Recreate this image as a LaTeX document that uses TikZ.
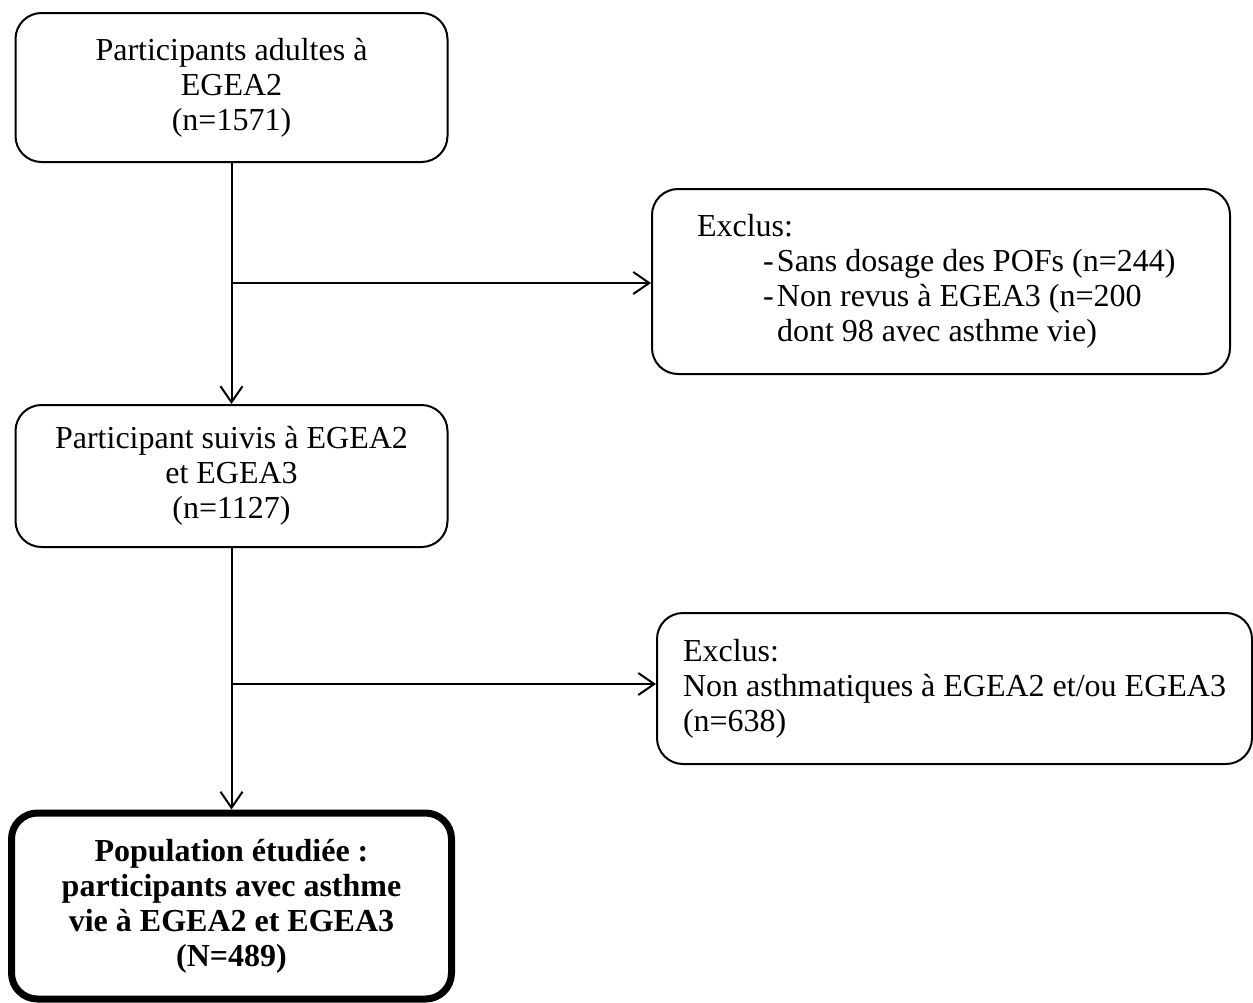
\documentclass[tikz,border=0pt]{standalone}
\usepackage{fontspec}
\setmainfont{Liberation Serif}
\usetikzlibrary{arrows.meta,calc}
\newcommand{\exline}[1]{\makebox[488pt][l]{#1}}
\begin{document}
\begin{tikzpicture}[x=1pt,y=-1pt,
  box/.style={draw=black, line width=2pt, rounded corners=26pt, inner sep=0pt,
    font=\fontsize{32}{35}\selectfont, align=center},
  lbox/.style={box, align=left},
  mainbox/.style={box, line width=7pt, font=\fontsize{32}{35}\selectfont\bfseries},
  arr/.style={line width=2pt, -{Straight Barb[length=16pt,width=22pt,line width=2pt]}},
  ln/.style={line width=2pt}
]
\useasboundingbox (0,0) rectangle (1253,1002);
\node[box, minimum width=432pt, minimum height=149pt] (a) at (231.5,87.5)
  {Participants adultes à\\EGEA2\\(n=1571)};
\node[lbox, minimum width=578pt, minimum height=185pt] (e1) at (941,281.5)
  {\exline{Exclus:}\\
   \exline{\hspace*{66pt}\makebox[14pt][l]{-}Sans dosage des POFs (n=244)}\\
   \exline{\hspace*{66pt}\makebox[14pt][l]{-}Non revus à EGEA3 (n=200}\\
   \exline{\hspace*{80pt}dont 98 avec asthme vie)}};
\node[box, minimum width=432pt, minimum height=142pt] (b) at (231.5,476)
  {Participant suivis à EGEA2\\et EGEA3\\(n=1127)};
\node[lbox, minimum width=595pt, minimum height=151pt] (e2) at (954.5,688.5)
  {Exclus:\\Non asthmatiques à EGEA2 et/ou EGEA3\\(n=638)};
\node[mainbox, minimum width=440pt, minimum height=186pt] (c) at (231.5,906)
  {Population étudiée :\\participants avec asthme\\vie à EGEA2 et EGEA3\\(N=489)};
\coordinate (j1) at (231.5,283);
\coordinate (j2) at (231.5,684);
\draw[arr] (a) -- (b);
\draw[arr] (j1) -- (j1 -| e1.west);
\draw[arr] (b) -- (c);
\draw[arr] (j2) -- (j2 -| e2.west);
\end{tikzpicture}
\end{document}
